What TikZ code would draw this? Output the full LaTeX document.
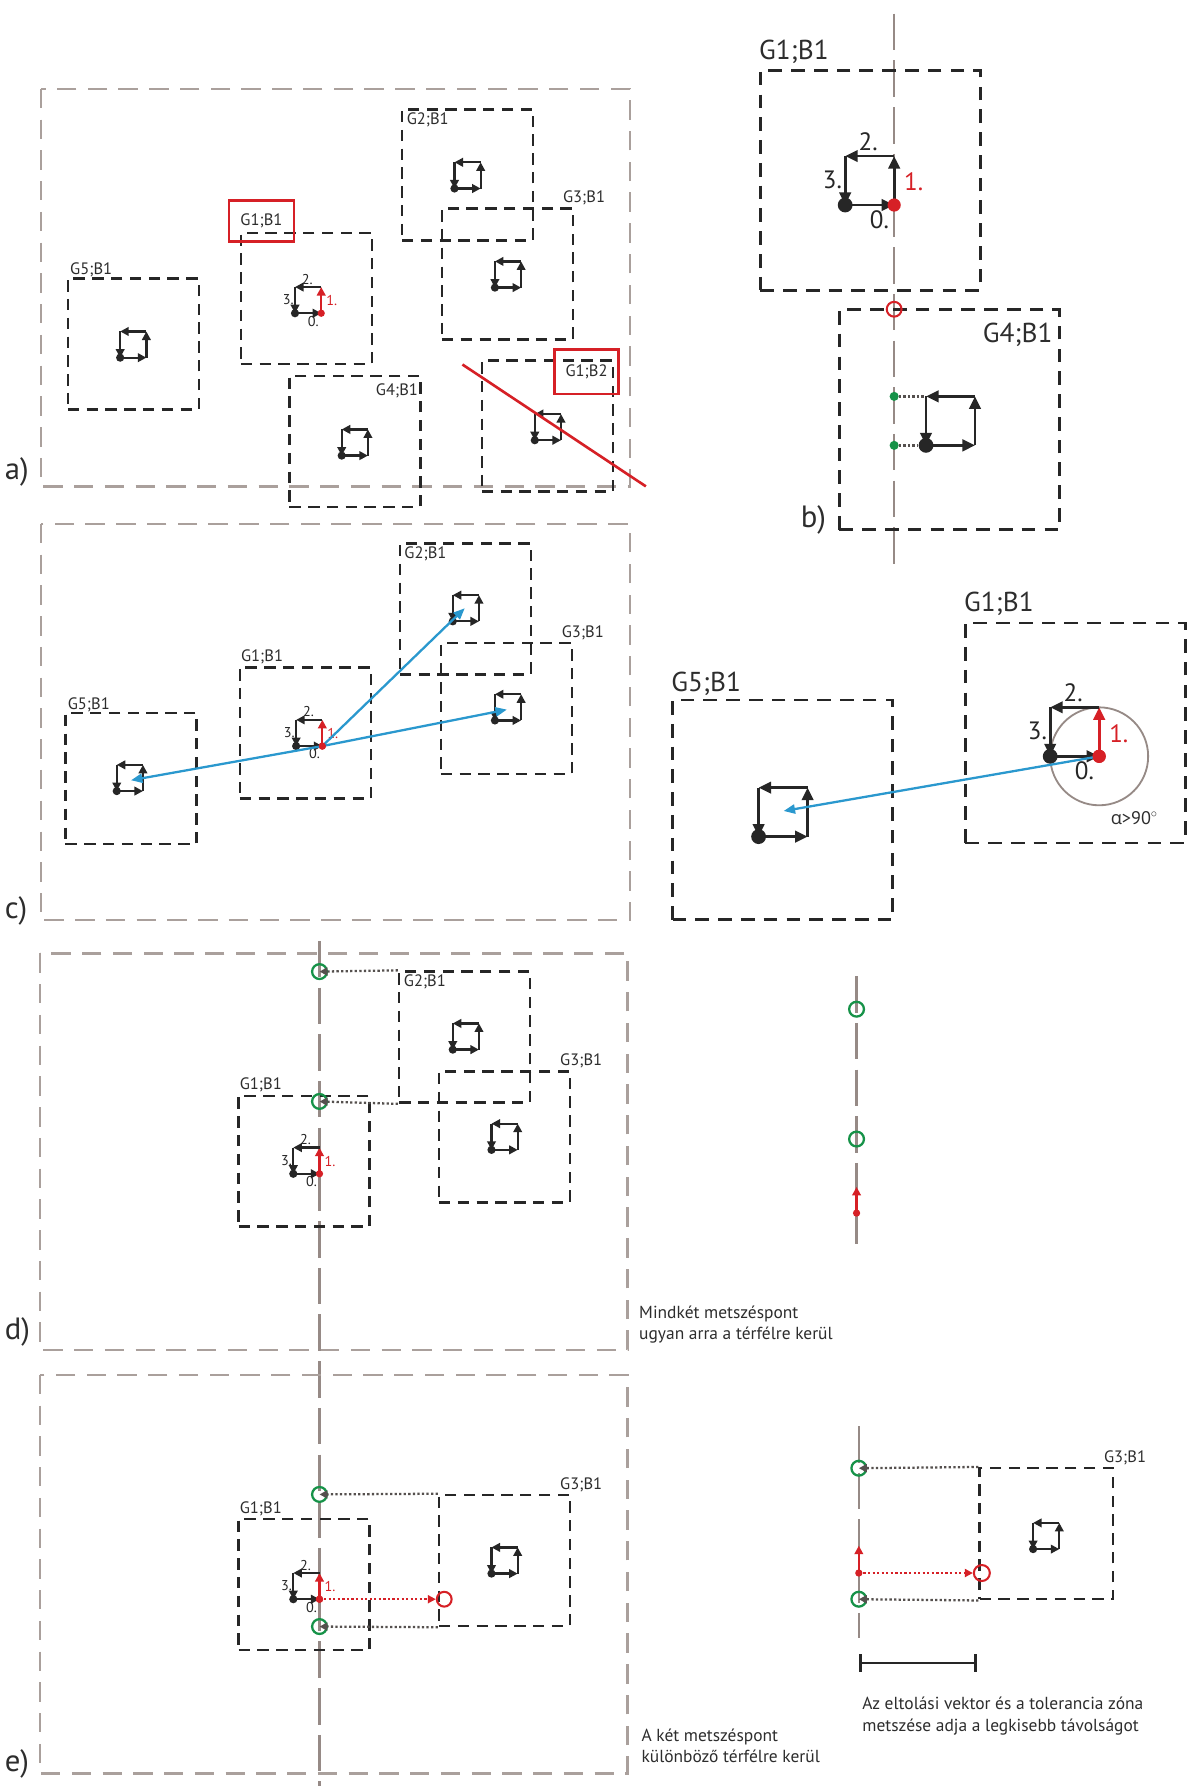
\documentclass[tikz,border=0pt]{standalone}
\usepackage{fontspec}
\setmainfont{PT Sans}
\newfontfamily\grkfont{Open Sans}
\usetikzlibrary{arrows.meta,calc}
\definecolor{fgrey}{RGB}{170,160,156}
\definecolor{lgrey}{RGB}{150,138,134}
\definecolor{bk}{RGB}{38,38,38}
\definecolor{rd}{RGB}{214,32,38}
\definecolor{bl}{RGB}{42,152,206}
\definecolor{gr}{RGB}{22,146,72}
\definecolor{tx}{RGB}{45,45,45}
\definecolor{dg}{RGB}{85,80,78}
\newcommand\labfont{\fontsize{14.5}{16}\selectfont}
\newcommand\bigfont{\fontsize{24}{28}\selectfont}
\newcommand\panfont{\fontsize{27}{30}\selectfont}
\newcommand\txtfont{\fontsize{15.3}{18.5}\selectfont}
\def\smdot{3.6pt}\def\bgdot{6.5pt}\def\smrdot{3.2pt}\def\bgrdot{5.8pt}
% #1 cx, #2 cy, #3 side, #4 sm/bg, #5 mode (0 plain, 1 red arrow + labels, 2 black arrow + labels)
\newcommand\drawicon[5]{%
\begin{scope}[shift={({#1-#3/2},{#2+#3/2})}]
 \pgfmathsetmacro\icS{#3}
 \draw[#4arr] (0,0) -- (\icS,0);
 \ifnum#5=1 \draw[#4arr,rd] (\icS,0) -- (\icS,-\icS);\else \draw[#4arr] (\icS,0) -- (\icS,-\icS);\fi
 \draw[#4arr] (\icS,-\icS) -- (0,-\icS);
 \draw[#4arr] (0,-\icS) -- (0,0);
 \fill[bk] (0,0) circle (\csname#4dot\endcsname);
 \ifnum#5>0
  \fill[rd] (\icS,0) circle (\csname#4rdot\endcsname);
  \node[#4num] at ({0.47*\icS},{-1.3*\icS}) {2.};
  \node[#4num] at ({-0.26*\icS},{-0.52*\icS}) {3.};
  \node[#4num,text=rd] at ({1.4*\icS},{-0.47*\icS}) {1.};
  \node[#4num] at ({0.7*\icS},{0.3*\icS}) {0.};
 \fi
\end{scope}}
\begin{document}
\begin{tikzpicture}[x=1pt,y=-1pt,
  frame/.style={draw=fgrey,line width=2pt,dash pattern=on 17pt off 10pt},
  axis/.style={draw=lgrey,line width=2pt,dash pattern=on 32pt off 9pt},
  sbox/.style={draw=bk,line width=2.2pt,dash pattern=on 10pt off 6.5pt,minimum size=115pt,inner sep=0pt},
  bbox/.style={draw=bk,line width=2.4pt,dash pattern=on 12pt off 8pt,minimum size=193pt,inner sep=0pt},
  lab/.style={font=\labfont,text=tx,inner sep=0pt},
  blab/.style={font=\bigfont,text=tx,inner sep=0pt},
  pan/.style={font=\panfont,text=tx,inner sep=0pt,anchor=base west},
  redbox/.style={draw=rd,line width=2.2pt,inner sep=0pt,font=\labfont,text=tx},
  smarr/.style={color=bk,line width=2pt,-{Triangle[length=7.5pt,width=7.5pt]}},
  bgarr/.style={color=bk,line width=2.5pt,-{Triangle[length=11pt,width=10pt]}},
  smnum/.style={font=\fontsize{12.5}{13}\selectfont,text=bk,inner sep=0pt},
  bgnum/.style={font=\fontsize{22}{24}\selectfont,text=bk,inner sep=0pt},
  blarr/.style={draw=bl,line width=2pt,-{Triangle[length=10pt,width=8pt,fill=bl]}},
  dots/.style={draw=dg,line width=2pt,dash pattern=on 2pt off 2pt,-{Triangle[length=7pt,width=7pt,fill=dg]}},
  rdots/.style={draw=rd,line width=2pt,dash pattern=on 2pt off 2pt,-{Triangle[length=7pt,width=7pt,fill=rd]}},
  gcirc/.style={draw=gr,line width=2pt},
  rcirc/.style={draw=rd,line width=1.8pt},
  txt/.style={font=\txtfont,text=tx,inner sep=0pt,anchor=north west,align=left}
]
\useasboundingbox (0,0) rectangle (1047,1568);
\fill[white] (0,0) rectangle (1047,1568);

% ================= a) =================
\draw[frame] (36,78) rectangle (553,427);
\node[pan] (la) at (4,421) {a)};
\node[sbox] (aG2) at (410.5,153.5) {};
\node[sbox] (aG3) at (445.5,240.5) {};
\node[sbox] (aG1) at (269,262) {};
\node[sbox] (aG5) at (117,302) {};
\node[sbox] (aG4) at (311.5,387.5) {};
\node[sbox] (aG1B2) at (480.5,374) {};
\node[lab,anchor=base west] (aG2l) at ($(aG2.north west)+(5,14)$) {G2;B1};
\node[lab,anchor=base west] (aG3l) at ($(aG3.north east)+(-10,-4)$) {G3;B1};
\node[lab,anchor=base west] (aG5l) at ($(aG5.north west)+(3,-2)$) {G5;B1};
\node[lab,anchor=base east] (aG4l) at ($(aG4.north east)+(-3,18)$) {G4;B1};
\node[redbox,minimum width=57pt,minimum height=36pt] (aG1l) at (229.5,194) {G1;B1};
\node[redbox,minimum width=56pt,minimum height=39pt] (aG1B2l) at (515,326.5) {G1;B2};
\drawicon{410.5}{154}{23}{sm}{0}
\drawicon{446}{241}{23}{sm}{0}
\drawicon{270.5}{263.5}{23}{sm}{1}
\drawicon{117}{302.5}{23}{sm}{0}
\drawicon{311.5}{388.5}{23}{sm}{0}
\drawicon{481}{375}{23}{sm}{0}
\coordinate (cutA) at (406,320);
\coordinate (cutB) at (567,427);
\draw[rd,line width=2.3pt] (cutA) -- (cutB);

% ================= b) =================
\draw[axis] (785,12) -- (785,497);
\node[bbox] (bG1) at (764,158.5) {};
\node[bbox] (bG4) at (833.5,368.5) {};
\node[blab,anchor=base west] (bG1l) at ($(bG1.north west)+(0,-9)$) {G1;B1};
\node[blab,anchor=base east] (bG4l) at ($(bG4.north east)+(-7,30)$) {G4;B1};
\drawicon{763.5}{158.5}{43}{bg}{2}
\drawicon{834.5}{369.5}{43}{bg}{0}
\node[rcirc,circle,minimum size=13pt,inner sep=0pt] (bx) at (785,271.5) {};
\fill[gr] (785,348) circle (4pt) coordinate (bq1);
\fill[gr] (785,391) circle (4pt) coordinate (bq2);
\coordinate (bp1) at (812,348);
\coordinate (bp2) at (806,391);
\draw[dg,line width=2pt,dash pattern=on 2pt off 2pt] (bq1) ++(4,0) -- (bp1);
\draw[dg,line width=2pt,dash pattern=on 2pt off 2pt] (bq2) ++(4,0) -- (bp2);
\node[pan] (lb) at (703,463) {b)};

% ================= c) =================
\draw[frame] (36,460) rectangle (553,808);
\node[pan] (lc) at (4,806) {c)};
\node[sbox] (cG2) at (408.5,534.5) {};
\node[sbox] (cG3) at (444.5,622) {};
\node[sbox] (cG1) at (268,643.5) {};
\node[sbox] (cG5) at (115,683.5) {};
\node[lab,anchor=base west] (cG2l) at ($(cG2.north west)+(5,14)$) {G2;B1};
\node[lab,anchor=base west] (cG3l) at ($(cG3.north east)+(-10,-4)$) {G3;B1};
\node[lab,anchor=base west] (cG1l) at ($(cG1.north west)+(2,-4)$) {G1;B1};
\node[lab,anchor=base west] (cG5l) at ($(cG5.north west)+(3,-2)$) {G5;B1};
\drawicon{409}{534}{23}{sm}{0}
\drawicon{446}{621}{23}{sm}{0}
\drawicon{114}{683}{23}{sm}{0}
\drawicon{271.5}{643.5}{23}{sm}{1}
\coordinate (cO) at (283,655);
\coordinate (cT2) at (408,534);
\coordinate (cT3) at (445,623);
\coordinate (cT5) at (115,685);
\draw[blarr] (cO) -- (cT2);
\draw[blarr] (cO) -- (cT3);
\draw[blarr] (cO) -- (cT5);
\fill[rd] (cO) circle (3.2pt);

% c) right
\node[bbox] (rG5) at (687,711) {};
\node[bbox] (rG1) at (944,643.5) {};
\node[blab,anchor=base west] (rG5l) at ($(rG5.north west)+(0,-6)$) {G5;B1};
\node[blab,anchor=base west] (rG1l) at ($(rG1.north west)+(0,-9)$) {G1;B1};
\drawicon{687.5}{713}{43}{bg}{0}
\coordinate (rO) at (965,664);
\draw[lgrey,line width=1.6pt] (rO) circle (43pt);
\drawicon{943.5}{642.5}{43}{bg}{1}
\coordinate (rT) at (688,712);
\draw[blarr] (rO) -- (rT);
\fill[rd] (rO) circle (5.8pt);
\node[font=\fontsize{16}{18}\selectfont,text=tx,inner sep=0pt,anchor=base west] (alpha) at (975,724) {{\grkfont α}>90$^{\circ}$};

% ================= d) =================
\draw[frame] (35,837) rectangle (551,1185);
\node[pan] (ld) at (4,1176) {d)};
\draw[axis] (280.5,826) -- (280.5,1568);
\node[sbox] (dG2) at (408,910.5) {};
\node[sbox] (dG3) at (443,998) {};
\node[sbox] (dG1) at (267,1019.5) {};
\node[lab,anchor=base west] (dG2l) at ($(dG2.north west)+(5,14)$) {G2;B1};
\node[lab,anchor=base west] (dG3l) at ($(dG3.north east)+(-10,-4)$) {G3;B1};
\node[lab,anchor=base west] (dG1l) at ($(dG1.north west)+(2,-4)$) {G1;B1};
\drawicon{409}{910}{23}{sm}{0}
\drawicon{443}{998}{23}{sm}{0}
\drawicon{269}{1019}{23}{sm}{1}
\node[gcirc,circle,minimum size=13pt,inner sep=0pt] (dc1) at (280.5,853) {};
\node[gcirc,circle,minimum size=13pt,inner sep=0pt] (dc2) at (280.5,967) {};
\draw[dots] (dG2.north west) -- (dc1.center);
\draw[dots] (dG2.south west) -- (dc2.center);
\node[txt] (dtext) at (561,1146) {Mindkét metszéspont\\ugyan arra a térfélre kerül};
% d) right
\draw[axis] (752,857) -- (752,1092);
\node[gcirc,circle,minimum size=13pt,inner sep=0pt] (dr1) at (752,886) {};
\node[gcirc,circle,minimum size=13pt,inner sep=0pt] (dr2) at (752,1000) {};
\coordinate (drO) at (752,1065);
\coordinate (drT) at (752,1042);
\draw[smarr,rd] (drO) -- (drT);
\fill[rd] (drO) circle (3.2pt);

% ================= e) =================
\draw[frame] (35,1207) rectangle (551,1557);
\node[pan] (le) at (4,1555) {e)};
\node[sbox] (eG3) at (443,1370) {};
\node[sbox] (eG1) at (267,1391) {};
\node[lab,anchor=base west] (eG3l) at ($(eG3.north east)+(-10,-4)$) {G3;B1};
\node[lab,anchor=base west] (eG1l) at ($(eG1.north west)+(2,-4)$) {G1;B1};
\drawicon{443}{1370}{23}{sm}{0}
\drawicon{269}{1392.5}{23}{sm}{1}
\node[gcirc,circle,minimum size=13pt,inner sep=0pt] (ec1) at (280.5,1312) {};
\node[gcirc,circle,minimum size=13pt,inner sep=0pt] (ec2) at (280.5,1428) {};
\draw[dots] (eG3.north west) -- (ec1.center);
\draw[dots] (eG3.south west) -- (ec2.center);
\coordinate (eO) at (280.5,1404);
\node[rcirc,circle,minimum size=13pt,inner sep=0pt] (erc) at (390,1404) {};
\draw[rdots] (eO) -- (erc.west);
\fill[rd] (eO) circle (3.2pt);
\node[txt] (etext) at (563,1518) {A két metszéspont\\különböző térfélre kerül};
% e) right
\draw[axis] (754,1252) -- (754,1438);
\node[sbox,minimum width=117pt] (rG3) at (918.5,1346.5) {};
\node[lab,anchor=base west] (rG3l) at ($(rG3.north east)+(-9,-4)$) {G3;B1};
\drawicon{918.5}{1348.5}{23}{sm}{0}
\node[gcirc,circle,minimum size=13pt,inner sep=0pt] (er1) at (754,1289) {};
\node[gcirc,circle,minimum size=13pt,inner sep=0pt] (er2) at (754,1404) {};
\draw[dots] (rG3.north west) -- (er1.center);
\draw[dots] (rG3.south west) -- (er2.center);
\coordinate (erO) at (754,1381);
\coordinate (erT) at (754,1357);
\node[rcirc,circle,minimum size=14pt,inner sep=0pt] (errc) at (862,1381) {};
\draw[rdots] (erO) -- (errc.west);
\draw[smarr,rd] (erO) -- (erT);
\fill[rd] (erO) circle (3.2pt);
\coordinate (sb1) at (754,1460);
\coordinate (sb2) at (858,1460);
\draw[bk,line width=2.5pt,{Bar[width=15pt]}-{Bar[width=15pt]}] (sb1) -- (sb2);
\node[txt] (rtext) at (757,1490) {Az eltolási vektor és a tolerancia zóna\\metszése adja a legkisebb távolságot};
\end{tikzpicture}
\end{document}
